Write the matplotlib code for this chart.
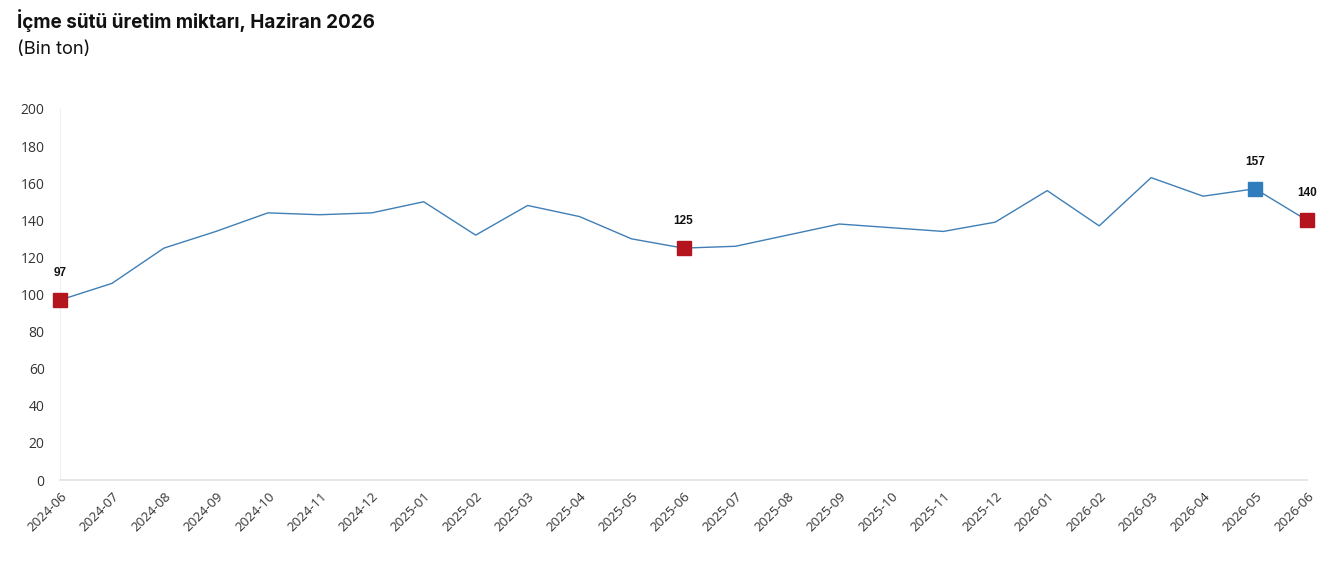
import matplotlib
matplotlib.use("Agg")
from matplotlib import pyplot as plt

# data
months = ["2024-06", "2024-07", "2024-08", "2024-09", "2024-10", "2024-11", "2024-12",
          "2025-01", "2025-02", "2025-03", "2025-04", "2025-05", "2025-06", "2025-07",
          "2025-08", "2025-09", "2025-10", "2025-11", "2025-12", "2026-01", "2026-02",
          "2026-03", "2026-04", "2026-05", "2026-06"]
values = [97, 106, 125, 134, 144, 143, 144, 150, 132, 148, 142, 130, 125, 126,
          132, 138, 136, 134, 139, 156, 137, 163, 153, 157, 140]
red_idx = [0, 12, 24]
blue_idx = [23]
y_ticks = [0, 20, 40, 60, 80, 100, 120, 140, 160, 180, 200]

W, H = 1343, 561
fig = plt.figure(figsize=(W / 100, H / 100), dpi=100)
ax = fig.add_axes([60 / W, 1 - 480 / H, (1307 - 60) / W, (480 - 109) / H])

x = list(range(len(months)))
ax.plot(x, values, color="#3F7FB5", lw=1.0, zorder=2)

for i in red_idx:
    ax.plot(x[i], values[i], marker="s", ms=10.5, color="#B3141D", mec="#B3141D",
            clip_on=False, zorder=3)
for i in blue_idx:
    ax.plot(x[i], values[i], marker="s", ms=10.5, color="#2F7DBD", mec="#2F7DBD",
            clip_on=False, zorder=3)
for i in red_idx + blue_idx:
    ax.annotate(str(values[i]), (x[i], values[i]), xytext=(0, 19.5), textcoords="offset points",
                ha="center", va="center", fontsize=8.5, fontweight="bold",
                family="Liberation Sans", color="#111111")

ax.set_xlim(0, 24)
ax.set_ylim(0, 200)
ax.set_yticks(y_ticks)
ax.set_yticklabels([str(t) for t in y_ticks], family="Open Sans", fontsize=10, color="#333333")
ax.set_xticks(x)
ax.set_xticklabels(months, rotation=45, ha="right", va="top", rotation_mode="anchor",
                   family="Open Sans", fontsize=9.5, color="#333333")
ax.tick_params(length=0)
ax.tick_params(axis="y", pad=11)
ax.tick_params(axis="x", pad=7)

for s in ["top", "right"]:
    ax.spines[s].set_visible(False)
ax.spines["left"].set_color("#EEF0F3")
ax.spines["bottom"].set_color("#E2E2E2")
ax.spines["bottom"].set_linewidth(1.2)

fig.text(17 / W, 1 - 21 / H, "İçme sütü üretim miktarı, Haziran 2026", fontsize=13.6,
         fontweight="bold", family="Inter", va="center", ha="left", color="#111111")
fig.text(17 / W, 1 - 49 / H, "(Bin ton)", fontsize=13.2, family="Inter",
         va="center", ha="left", color="#111111")

fig.savefig("out.png", dpi=100)
